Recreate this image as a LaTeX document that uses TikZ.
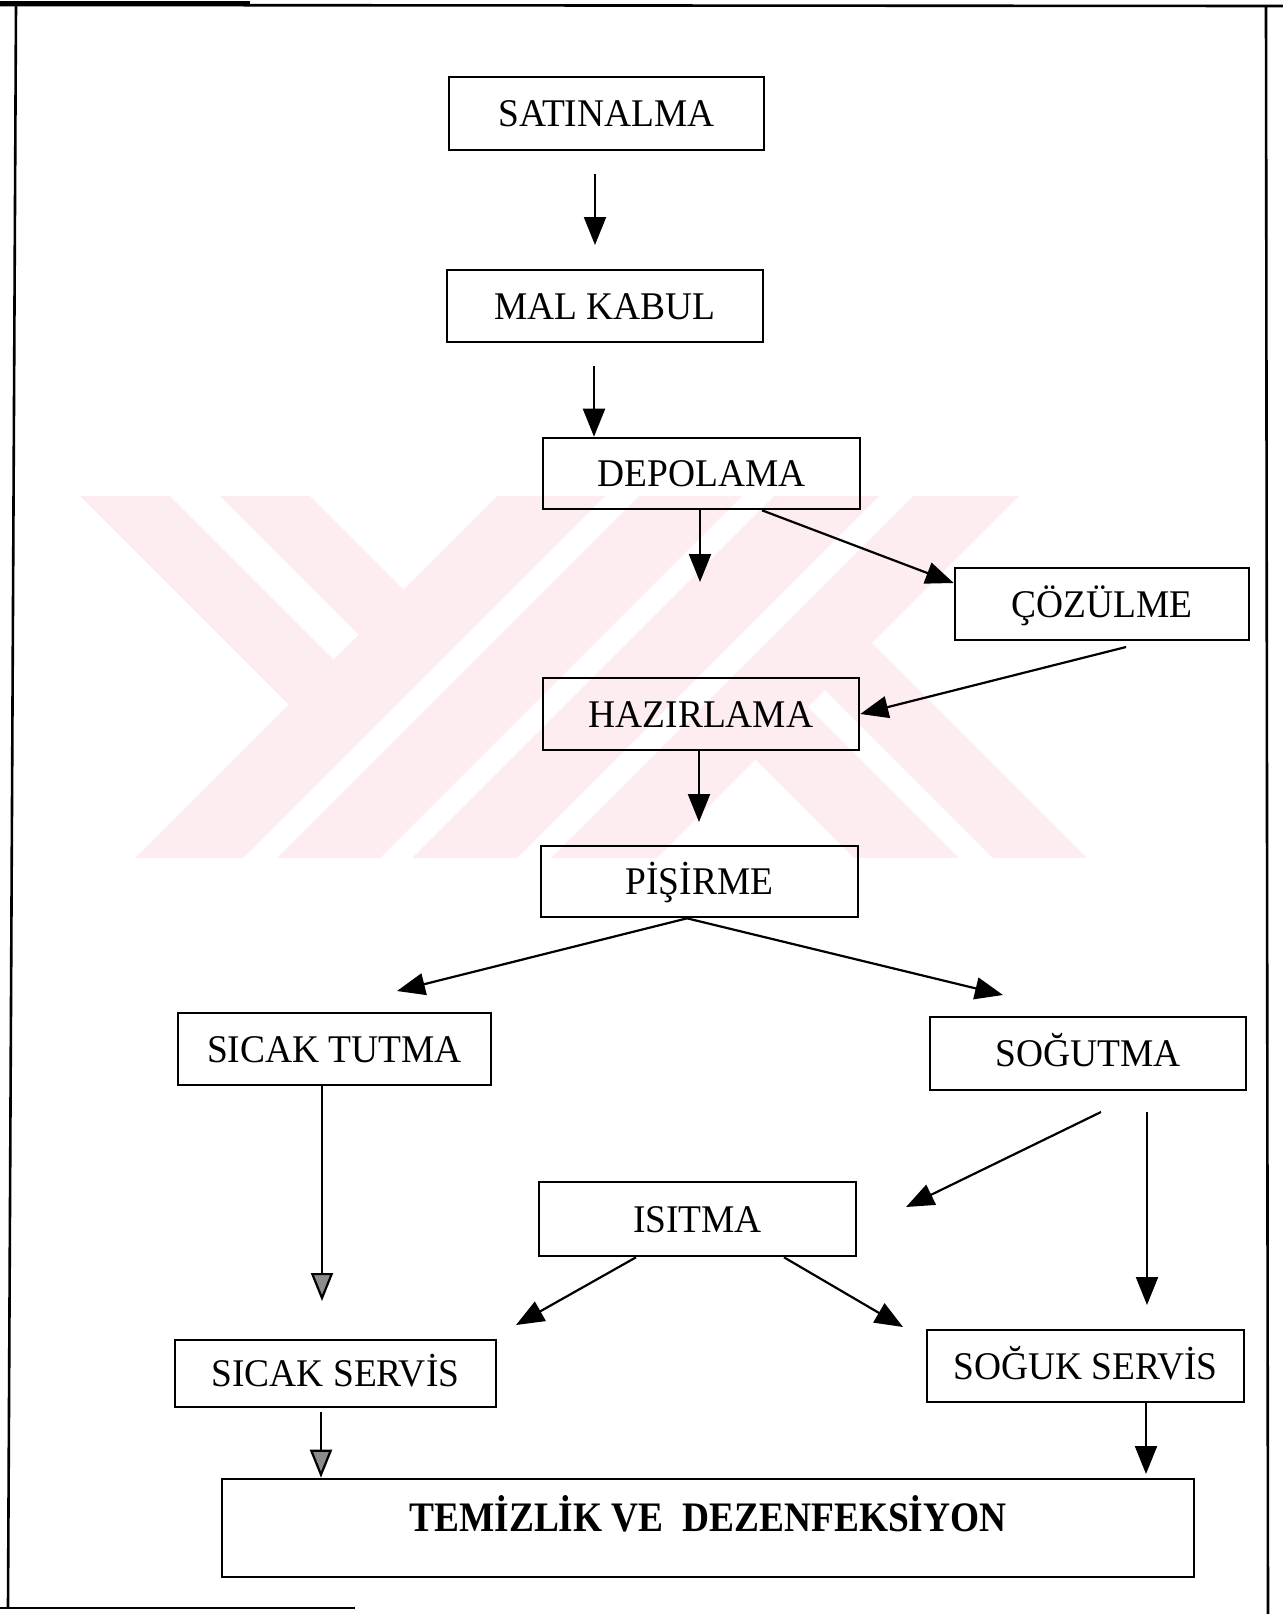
\documentclass[tikz,border=0pt]{standalone}
\usepackage{fontspec}
\setmainfont{Liberation Serif}[FakeStretch=0.955]
\newfontfamily\headfont{Liberation Serif}[FakeStretch=0.89]
\usetikzlibrary{arrows.meta,calc}

\definecolor{wmpink}{RGB}{253,236,240}

\tikzset{
  stage/.style={draw=black, line width=1.3pt, rectangle, inner sep=0pt,
    font=\fontsize{19.6}{23}\selectfont, text height=13pt, text depth=0pt},
  flow/.style={line width=1.1pt, -{Triangle[length=14pt,width=11pt]}},
  faded/.style={line width=1.1pt, -{Triangle[length=14pt,width=11pt,fill=black!45]}},
  frame/.style={line width=1.3pt},
  wm/.style={fill=wmpink, draw=none}
}

\begin{document}
\begin{tikzpicture}[x=0.5pt,y=-0.5pt]
\useasboundingbox (0,0) rectangle (1283,1614);

% pale background emblem made of diagonal bands
\fill[wm] (80,496) -- (170,496) -- (333.5,659.5) -- (288.5,704.5) -- cycle;
\fill[wm] (220,496) -- (310,496) -- (403.5,589.5) -- (358.5,634.5) -- cycle;
\fill[wm] (497,496) -- (605,496) -- (243,858) -- (135,858) -- cycle;
\fill[wm] (639,496) -- (742,496) -- (380,858) -- (277,858) -- cycle;
\fill[wm] (774,496) -- (879,496) -- (517,858) -- (412,858) -- cycle;
\fill[wm] (913,496) -- (1019,496) -- (657,858) -- (551,858) -- cycle;
\fill[wm] (872,643) -- (1087,858) -- (993,858) -- (825,690) -- cycle;
\fill[wm] (808,707) -- (959,858) -- (854,858) -- (755.5,759.5) -- cycle;

% page frame
\draw[frame] (0,5) -- (1283,6);
\draw[line width=2pt] (0,3) -- (250,3);
\draw[frame] (16,5) -- (8,1608);
\draw[frame] (0,1608) -- (355,1608);
\draw[frame] (1266,5) -- (1268,1614);

% process stages
\node[stage, minimum width=157.5pt, minimum height=36.5pt] (sat)  at (606.5,113.5) {SATINALMA};
\node[stage, minimum width=158pt,   minimum height=36pt]   (mal)  at (605,306)     {MAL KABUL};
\node[stage, minimum width=158.5pt, minimum height=35.5pt] (dep)  at (701.5,473.5) {DEPOLAMA};
\node[stage, minimum width=147pt,   minimum height=36pt]   (coz)  at (1102,604)    {ÇÖZÜLME};
\node[stage, minimum width=158pt,   minimum height=36pt]   (haz)  at (701,714)     {HAZIRLAMA};
\node[stage, minimum width=158.5pt, minimum height=35.5pt] (pis)  at (699.5,881.5) {PİŞİRME};
\node[stage, minimum width=156.5pt, minimum height=36pt]   (stut) at (334.5,1049)  {SICAK TUTMA};
\node[stage, minimum width=158pt,   minimum height=36.5pt] (sog)  at (1088,1053.5) {SOĞUTMA};
\node[stage, minimum width=158.5pt, minimum height=37pt]   (isi)  at (697.5,1219)  {ISITMA};
\node[stage, minimum width=160.5pt, minimum height=33.5pt] (sser) at (335.5,1373.5) {SICAK SERVİS};
\node[stage, minimum width=158.5pt, minimum height=36pt]   (gser) at (1085.5,1366) {SOĞUK SERVİS};
\node[stage, minimum width=486pt,   minimum height=49pt,
      font=\headfont\bfseries\fontsize{21}{25}\selectfont,
      text height=14pt, text depth=11pt] (tem) at (708,1528) {TEMİZLİK VE~~DEZENFEKSİYON};

% free arrow ends
\coordinate (p1)  at (595,174);
\coordinate (p2)  at (595,245);
\coordinate (p3)  at (594,366);
\coordinate (p4)  at (700,582);
\coordinate (d1)  at (762,0);
\coordinate (c1)  at (955,583);
\coordinate (p5)  at (1126,647);
\coordinate (p6)  at (699,822);
\coordinate (k1)  at (687,0);
\coordinate (p7)  at (397,991);
\coordinate (p8)  at (1003,995);
\coordinate (s1)  at (322,0);
\coordinate (p9)  at (322,1301);
\coordinate (p10) at (1101,1112);
\coordinate (p11) at (906,1207);
\coordinate (p12) at (1147,1112);
\coordinate (p13) at (1147,1305);
\coordinate (i1)  at (636,0);
\coordinate (i2)  at (784,0);
\coordinate (p14) at (516,1325);
\coordinate (p15) at (903,1327);
\coordinate (p16) at (321,1412);
\coordinate (g1)  at (1146,0);
\coordinate (p18) at (1146,1474);

% connectors
\draw[flow] (p1) -- (p2);
\draw[flow] (p3) -- (p3 |- dep.north);
\draw[flow] (p4 |- dep.south) -- (p4);
\draw[flow] (d1 |- dep.south) -- (coz.west |- c1);
\draw[flow] (p5) -- (haz.east);
\draw[flow] (p6 |- haz.south) -- (p6);
\draw[flow] (k1 |- pis.south) -- (p7);
\draw[flow] (k1 |- pis.south) -- (p8);
\draw[faded] (s1 |- stut.south) -- (p9);
\draw[flow] (p10) -- (p11);
\draw[flow] (p12) -- (p13);
\draw[flow] (i1 |- isi.south) -- (p14);
\draw[flow] (i2 |- isi.south) -- (p15);
\draw[faded] (p16) -- (p16 |- tem.north);
\draw[flow] (g1 |- gser.south) -- (p18);
\end{tikzpicture}
\end{document}
